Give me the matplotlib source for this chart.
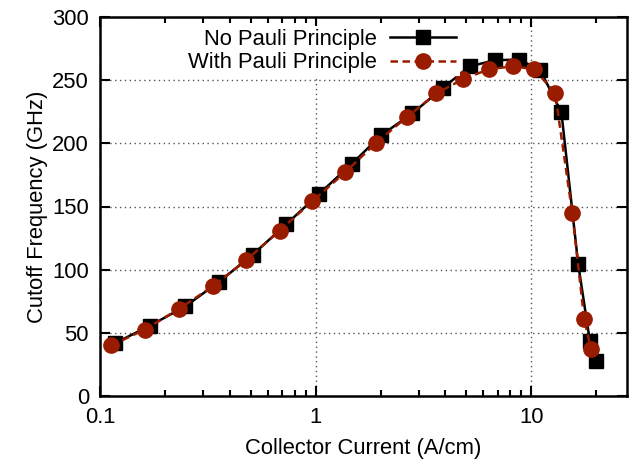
import matplotlib
matplotlib.use('Agg')
from matplotlib import pyplot as plt
from matplotlib.ticker import LogLocator, FixedLocator, NullFormatter

plt.rcParams['font.family'] = ['Liberation Sans', 'DejaVu Sans']

# 无泡利原理
cur_no = [0.118, 0.171, 0.249, 0.356, 0.51, 0.729, 1.038, 1.47, 2.02, 2.81,
          3.9, 5.19, 6.8, 8.8, 11.0, 13.8, 16.5, 18.7, 19.9]
ft_no = [42, 55.8, 71, 90.3, 111.8, 135.8, 160, 183.7, 206.6, 223.7,
         244, 261, 265.8, 266.3, 258, 224.5, 104.7, 43.4, 27.5]
# 有泡利原理
cur_pauli = [0.113, 0.161, 0.233, 0.333, 0.476, 0.682, 0.966, 1.37, 1.91, 2.66,
             3.63, 4.85, 6.38, 8.24, 10.3, 12.9, 15.5, 17.6, 18.9]
ft_pauli = [40, 52.6, 69, 86.8, 107.4, 131, 154.2, 177, 200.5, 221,
            239.5, 251, 258.7, 261, 258.7, 240, 144.7, 61, 37.5]

xticks = [0.1, 1, 10]
xticklabels = ['0.1', '1', '10']
yticks = [0, 50, 100, 150, 200, 250, 300]

red = '#9a1c00'
fs = 15.8

fig = plt.figure(figsize=(6.35, 4.63), dpi=100)
ax = fig.add_axes([100/635, 67/463, 527/635, 379/463])

ax.plot(cur_no, ft_no, '-', color='black', lw=1.8, marker='s', ms=10,
        label='No Pauli Principle', zorder=3)
ax.plot(cur_pauli, ft_pauli, '--', color=red, lw=1.8, dashes=(3, 1.8),
        marker='o', ms=11, label='With Pauli Principle', zorder=4)

ax.set_xscale('log')
ax.set_xlim(0.1, 27.8)
ax.set_ylim(0, 300)
ax.xaxis.set_major_locator(FixedLocator(xticks))
ax.set_xticks(xticks, xticklabels)
ax.xaxis.set_minor_locator(LogLocator(base=10, subs=range(2, 10)))
ax.xaxis.set_minor_formatter(NullFormatter())
ax.set_yticks(yticks)

ax.tick_params(which='both', direction='in', top=True, right=True, labelsize=fs, width=1.5)
ax.tick_params(which='major', length=7, pad=8)
ax.tick_params(which='minor', length=4)
for s in ax.spines.values():
    s.set_linewidth(1.8)

ax.grid(True, which='major', color='#555555', ls=(0, (1, 2.5)), lw=1)

ax.set_xlabel('Collector Current (A/cm)', fontsize=fs, labelpad=7)
ax.set_ylabel('Cutoff Frequency (GHz)', fontsize=fs, labelpad=3)

leg = ax.legend(loc='upper right', bbox_to_anchor=(0.703, 1.006), markerfirst=False,
                fontsize=fs, handlelength=3.0, handletextpad=0.6, labelspacing=0.1,
                borderpad=0.15, frameon=True, fancybox=False, framealpha=1)
leg.get_frame().set_edgecolor('none')
leg.set_zorder(5)

fig.savefig('out.png', dpi=100)
